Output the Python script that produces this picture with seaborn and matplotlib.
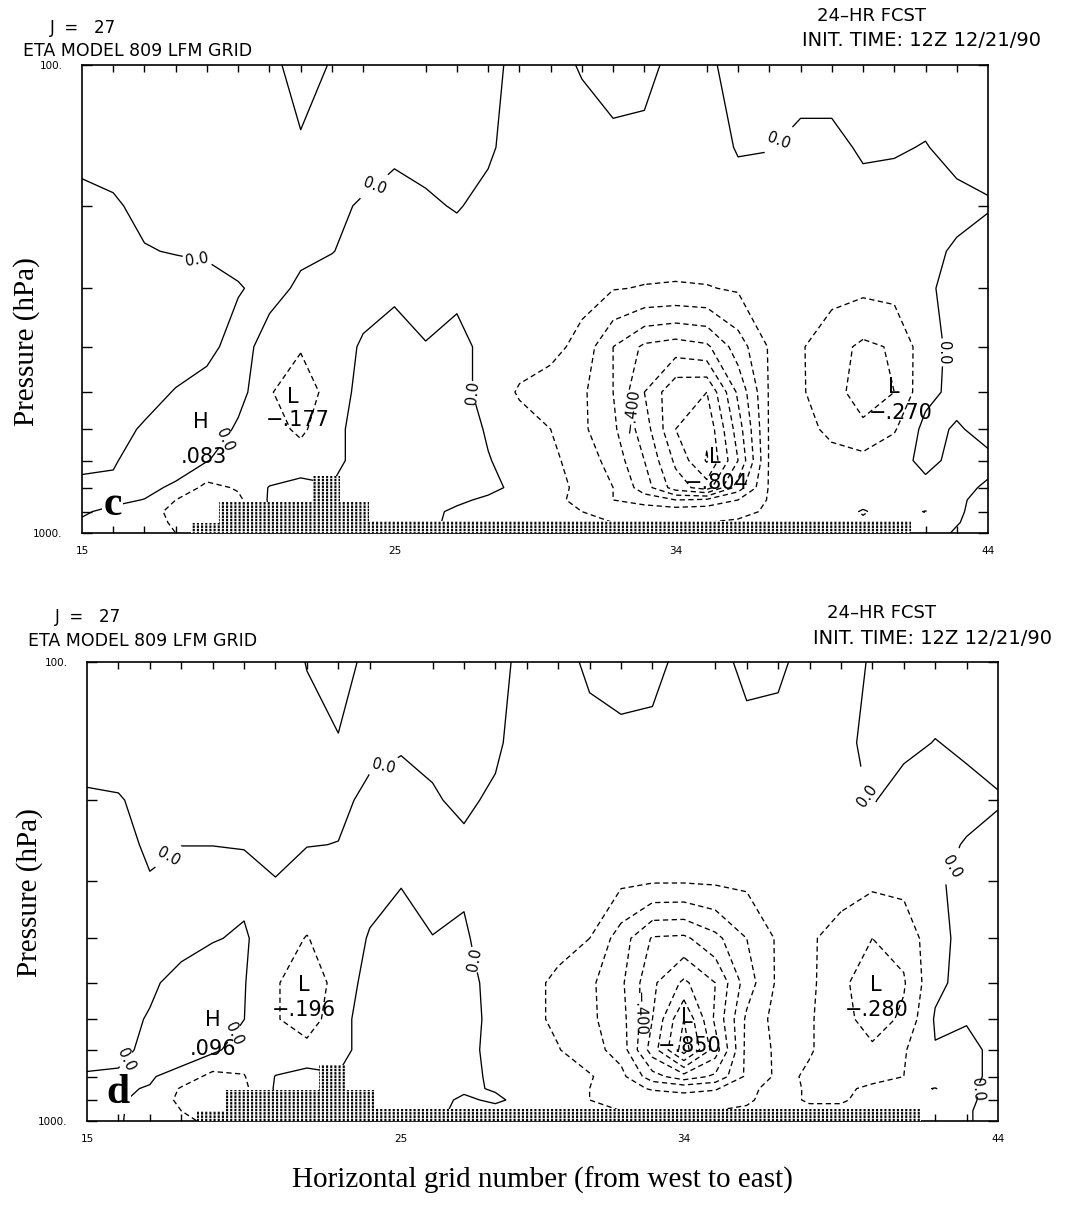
import numpy as np
import matplotlib
matplotlib.use('Agg')
import matplotlib.pyplot as plt
import seaborn as sns

sns.set_theme(style='ticks')
plt.rcParams['font.family'] = ['DejaVu Sans']
plt.rcParams['text.color'] = 'black'
plt.rcParams['axes.labelcolor'] = 'black'
plt.rcParams['xtick.color'] = 'black'
plt.rcParams['ytick.color'] = 'black'
plt.rcParams['hatch.linewidth'] = 1.5
plt.rcParams['lines.dashed_pattern'] = [4.0, 2.6]

# grid numbers (west -> east) and pressure levels (hPa)
grid_x = list(range(15, 45))
levels_p = [100, 150, 200, 250, 300, 400, 500, 600, 700, 800, 850, 900, 950, 1000]

# ---- panel c : vertical motion field, one row per pressure level ----
c100 = [.03, .03, .03, .03, .03, .03, .02, -.03, .005, .03, .03, .03, .03, .02, -.02, -.02, .005, .03, .02, -.02, -.01, .02, .03, .03, .03, .03, .03, .03, .03, .03]
c150 = [.03, .03, .03, .03, .03, .03, .02, .01, .02, .02, .01, .02, .03, .01, -.03, -.03, -.03, -.02, -.02, -.03, -.03, .005, .002, -.02, -.02, .01, .006, -.003, .02, .02]
c200 = [-.03, -.01, .02, .03, .03, .03, .03, .02, .01, -.005, -.02, -.01, .005, -.02, -.03, -.03, -.03, -.03, -.03, -.03, -.03, -.03, -.03, -.03, -.03, -.03, -.03, -.03, -.02, -.005]
c250 = [-.06, -.05, -.005, .005, .01, .02, .02, .01, .002, -.02, -.03, -.03, -.03, -.03, -.04, -.04, -.05, -.06, -.06, -.06, -.06, -.05, -.04, -.04, -.04, -.04, -.04, -.02, .01, .03]
c300 = [-.07, -.07, -.06, -.05, -.03, -.005, .02, -.01, -.03, -.03, -.02, -.04, -.02, -.04, -.05, -.06, -.07, -.095, -.105, -.11, -.105, -.09, -.06, -.06, -.07, -.08, -.07, -.01, .02, .03]
c400 = [-.06, -.06, -.05, -.04, -.02, .03, -.03, -.09, -.04, .01, .05, .005, .03, -.03, -.06, -.07, -.13, -.30, -.42, -.45, -.42, -.25, -.09, -.09, -.16, -.22, -.19, -.04, .03, .04]
c500 = [-.05, -.05, -.03, .005, .03, .04, -.09, -.17, -.05, .03, .06, .06, .04, -.04, -.11, -.15, -.18, -.30, -.50, -.68, -.70, -.38, -.09, -.09, -.15, -.26, -.20, -.03, .03, .04]
c600 = [-.04, -.03, .01, .06, .08, -.02, -.06, -.12, -.03, .04, .07, .08, .05, -.01, -.06, -.10, -.18, -.28, -.45, -.70, -.78, -.45, -.09, -.07, -.12, -.17, -.11, .03, -.01, .03]
c700 = [-.02, -.01, .05, .06, .005, -.06, -.07, -.05, -.03, .04, .07, .08, .06, .005, -.04, -.08, -.14, -.24, -.40, -.62, -.81, -.50, -.09, -.05, -.07, -.07, -.03, .02, -.02, -.02]
c800 = [.02, .02, .03, -.02, -.13, -.09, .005, .03, .005, .06, .07, .06, .05, .03, -.03, -.07, -.12, -.20, -.35, -.55, -.65, -.35, -.09, -.03, -.03, -.05, -.03, -.02, -.02, .01]
c850 = [.02, .02, -.003, -.10, -.14, -.12, .01, .03, .03, .05, .06, .05, .02, -.02, -.05, -.08, -.12, -.20, -.25, -.30, -.28, -.20, -.09, -.03, -.03, -.06, -.04, -.03, -.01, .02]
c900 = [.01, -.02, -.07, -.12, -.13, -.10, 0, .02, .03, .04, .04, .03, -.02, -.04, -.05, -.07, -.10, -.12, -.13, -.14, -.13, -.12, -.09, -.03, -.04, -.11, -.05, -.105, -.01, .03]
c950 = [-.01, -.03, -.07, -.11, -.12, -.10, -.02, 0, .02, .03, .03, .02, -.02, -.04, -.05, -.06, -.08, -.10, -.10, -.10, -.10, -.09, -.07, -.03, -.04, -.08, -.05, -.06, -.005, .04]
c1000 = [-.01, -.03, -.06, -.10, -.11, -.09, -.02, 0, .02, .03, .03, .02, -.02, -.04, -.05, -.06, -.07, -.08, -.08, -.08, -.08, -.07, -.06, -.03, -.04, -.06, -.05, -.04, .01, .04]

# ---- panel d ----
d100 = [.03, .03, .03, .03, .03, .03, .03, -.002, -.03, .02, .03, .03, .03, .02, -.02, -.02, .01, .03, .02, -.02, -.02, .015, .01, -.02, -.02, .005, .03, .03, .03, .03]
d150 = [.03, .03, .03, .03, .03, .03, .03, .02, .005, .01, .005, .01, .02, .01, -.03, -.03, -.02, -.02, -.02, -.03, -.03, -.02, -.02, -.03, -.02, .02, .015, -.002, .01, .02]
d200 = [-.01, -.005, .02, .03, .03, .03, .03, .03, .01, -.01, -.02, -.005, .01, -.01, -.03, -.03, -.03, -.03, -.03, -.03, -.03, -.03, -.03, -.03, -.03, .005, -.03, -.03, -.02, -.005]
d250 = [-.05, -.02, .01, .001, .001, .003, .015, .002, -.001, -.02, -.03, -.03, -.01, -.03, -.04, -.04, -.05, -.05, -.06, -.06, -.05, -.05, -.04, -.04, -.04, -.02, -.03, -.02, .005, .02]
d300 = [-.06, -.06, -.004, -.03, -.03, -.02, -.002, -.03, -.03, -.02, -.005, -.04, -.01, -.04, -.05, -.06, -.07, -.08, -.09, -.09, -.085, -.08, -.06, -.06, -.07, -.08, -.07, -.01, .02, .02]
d400 = [-.05, -.05, -.04, -.02, -.005, .01, -.05, -.105, -.04, .005, .04, .003, .01, -.04, -.06, -.07, -.10, -.25, -.41, -.42, -.33, -.20, -.085, -.09, -.13, -.20, -.17, -.03, .03, .03]
d500 = [-.05, -.04, -.01, .02, .05, .005, -.085, -.19, -.05, .03, .06, .06, .03, -.03, -.07, -.12, -.18, -.28, -.48, -.62, -.50, -.25, -.08, -.08, -.17, -.28, -.21, -.02, .03, .03]
d600 = [-.04, -.02, .005, .06, .095, .001, -.09, -.16, -.03, .04, .07, .08, .04, -.03, -.07, -.12, -.18, -.26, -.50, -.80, -.48, -.18, -.06, -.09, -.16, -.25, -.18, .01, .005, .03]
d700 = [-.02, -.01, .01, .06, .02, -.05, -.06, -.06, -.03, .04, .07, .07, .03, -.03, -.06, -.095, -.16, -.24, -.55, -.85, -.55, -.17, -.08, -.095, -.13, -.18, -.11, -.005, -.02, .02]
d800 = [.005, .005, .01, -.04, -.13, -.105, .003, .03, .005, .04, .05, .05, .03, -.02, -.05, -.09, -.09, -.17, -.36, -.46, -.38, -.18, -.08, -.11, -.13, -.13, -.10, -.03, -.02, .02]
d850 = [.02, .01, -.005, -.11, -.15, -.12, .01, .03, .03, .04, .05, .04, .01, -.005, -.04, -.08, -.10, -.16, -.21, -.23, -.21, -.12, -.07, -.11, -.12, -.08, -.06, -.105, -.01, .02]
d900 = [.02, .015, -.04, -.12, -.13, -.10, 0, .02, .03, .04, .04, .02, -.01, .01, -.02, -.07, -.10, -.13, -.14, -.15, -.14, -.11, -.07, -.11, -.11, -.07, -.05, -.06, -.01, .02]
d950 = [.02, .01, -.04, -.10, -.12, -.10, -.02, 0, .02, .03, .03, .02, -.02, -.02, -.04, -.06, -.08, -.10, -.10, -.10, -.10, -.09, -.06, -.08, -.08, -.06, -.05, -.04, -.005, .02]
d1000 = [.02, .01, -.05, -.09, -.11, -.09, -.02, 0, .02, .03, .03, .02, -.02, -.03, -.04, -.05, -.06, -.07, -.07, -.07, -.07, -.06, -.05, -.06, -.06, -.05, -.04, -.03, -.005, .02]

omega_c = [c100, c150, c200, c250, c300, c400, c500, c600, c700, c800, c850, c900, c950, c1000]
omega_d = [d100, d150, d200, d250, d300, d400, d500, d600, d700, d800, d850, d900, d950, d1000]

# model terrain (surface pressure of each step)
terrain_edges = [18.5, 19.4, 22.4, 23.25, 24.2, 41.55]
terrain_top = [952, 857, 754, 857, 942]

neg_levels = [-0.8, -0.7, -0.6, -0.5, -0.3, -0.2, -0.1]
labelled_level = [-0.4]

# label positions (grid number, hPa)
zero_lab_c = [(18.7, 257), (24.3, 174), (37.3, 146), (27.5, 502), (42.5, 412), (19.6, 633)]
zero_lab_d = [(17.6, 267), (24.4, 159), (39.4, 207), (42.85, 291), (27.25, 447),
              (16.3, 737), (19.55, 643), (43.8, 855)]
m400_lab_c = [(32.9, 546)]
m400_lab_d = [(32.8, 583)]
extrema_c = [('L', 21.75, 511), ('\u2212.177', 21.9, 574), ('H', 18.8, 580), ('.083', 18.9, 688),
             ('L', 35.26, 688), ('\u2212.804', 35.3, 783), ('L', 41.0, 487), ('\u2212.270', 41.2, 554)]
extrema_d = [('L', 21.9, 505), ('\u2212.196', 21.9, 574), ('H', 19.0, 603), ('.096', 19.0, 697),
             ('L', 34.1, 594), ('\u2212.850', 34.2, 688), ('L', 40.1, 505), ('\u2212.280', 40.15, 574)]

W, H = 1069, 1216
fig = plt.figure(figsize=(W / 100, H / 100), dpi=100)
fig.patch.set_facecolor('white')


def px_axes(left, top, right, bottom):
    return fig.add_axes([left / W, 1 - bottom / H, (right - left) / W, (bottom - top) / H])


def draw_panel(ax, omega, letter, zero_lab, m400_lab, extrema):
    X, P = np.meshgrid(grid_x, levels_p)
    Z = np.array(omega)
    cs0 = ax.contour(X, P, Z, levels=[0.0], colors='black', linewidths=0.95,
                     linestyles='solid', zorder=2)
    ax.contour(X, P, Z, levels=neg_levels, colors='black', linewidths=0.95,
               linestyles='dashed', zorder=2)
    cs4 = ax.contour(X, P, Z, levels=labelled_level, colors='black', linewidths=0.95,
                     linestyles='dashed', zorder=2)
    ax.clabel(cs0, fmt=lambda v: '0.0', manual=zero_lab, inline=True,
              inline_spacing=3, fontsize=10.5)
    ax.clabel(cs4, fmt=lambda v: '\u2212.400', manual=m400_lab,
              inline=True, inline_spacing=3, fontsize=10.5)

    # terrain: dotted columns (black vertical hatch broken by thin white rows)
    ax.stairs(terrain_top, terrain_edges, baseline=1000, fill=True, facecolor='white',
              edgecolor='black', hatch='||||', linewidth=0, zorder=3)
    with plt.rc_context({'hatch.linewidth': 0.6}):
        ax.stairs(terrain_top, terrain_edges, baseline=1000, fill=True, facecolor='none',
                  edgecolor='white', hatch='-----', linewidth=0, zorder=3.1)

    for txt, x, p in extrema:
        ax.text(x, p, txt, fontsize=15, ha='center', va='center', zorder=4)

    ax.set_yscale('log')
    ax.set_ylim(1000, 100)
    ax.set_xlim(15, 44)
    ax.set_yticks([100, 200, 300, 400, 500, 600, 700, 800, 900, 1000])
    ax.set_yticklabels(['100.', '', '', '', '', '', '', '', '', '1000.'])
    ax.yaxis.set_minor_locator(matplotlib.ticker.NullLocator())
    ax.tick_params(axis='y', which='major', direction='in', length=7, width=1,
                   left=True, right=True, labelsize=7.5, pad=14)
    ax.set_xticks([15, 25, 34, 44])
    ax.set_xticklabels(['15', '25', '34', '44'])
    ax.set_xticks(list(range(16, 44)), minor=True)
    ax.tick_params(axis='x', which='major', length=0, labelsize=7.5, pad=9)
    ax.tick_params(axis='x', which='minor', direction='in', length=5, width=1,
                   top=True, bottom=True)
    ax.grid(False)
    for s in ax.spines.values():
        s.set_linewidth(1.2)
        s.set_color('black')

    ax.text(0.034, 0.06, letter, transform=ax.transAxes, fontsize=30, fontweight='bold',
            family=['Liberation Serif', 'DejaVu Serif'], ha='center', va='center', zorder=5,
            bbox=dict(facecolor='white', edgecolor='none', pad=1))


ax_c = px_axes(82, 65, 988, 533)
draw_panel(ax_c, omega_c, 'c', zero_lab_c, m400_lab_c, extrema_c)
ax_d = px_axes(87, 662, 998, 1121)
draw_panel(ax_d, omega_d, 'd', zero_lab_d, m400_lab_d, extrema_d)

# headers
for (jy, ey, fy, iy), (jx, ex, fx, ix) in [((28, 51, 16, 40), (50, 23, 817, 802)),
                                           ((617, 641, 613, 638), (55, 28, 827, 813))]:
    fig.text(jx / W, 1 - jy / H, 'J  =   27', fontsize=12, va='center')
    fig.text(ex / W, 1 - ey / H, 'ETA MODEL 809 LFM GRID', fontsize=12.5, va='center')
    fig.text(fx / W, 1 - fy / H, '24\u2013HR FCST', fontsize=13, va='center')
    fig.text(ix / W, 1 - iy / H, 'INIT. TIME: 12Z 12/21/90', fontsize=14, va='center')

serif = ['Liberation Serif', 'DejaVu Serif']
fig.text(27 / W, 1 - 342 / H, 'Pressure (hPa)', rotation=90, ha='center', va='center',
         fontsize=21, family=serif)
fig.text(30 / W, 1 - 893 / H, 'Pressure (hPa)', rotation=90, ha='center', va='center',
         fontsize=21, family=serif)
fig.text(542 / W, 1 - 1180 / H, 'Horizontal grid number (from west to east)', ha='center',
         va='center', fontsize=21, family=serif)

fig.savefig('out.png', dpi=100, facecolor='white')
